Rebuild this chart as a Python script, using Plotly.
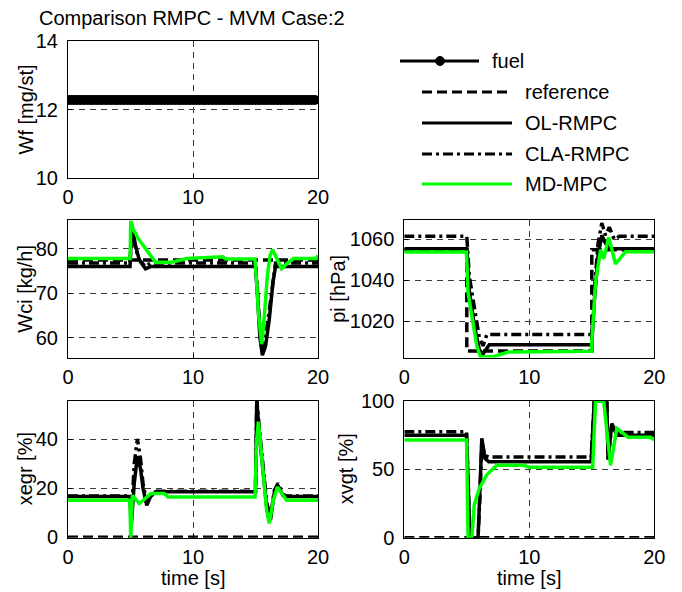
import plotly.graph_objects as go

# ---------------- data ----------------
fuel_t = [0, 0.25, 0.5, 0.75, 1, 1.25, 1.5, 1.75, 2, 2.25, 2.5, 2.75, 3, 3.25, 3.5, 3.75,
          4, 4.25, 4.5, 4.75, 5, 5.25, 5.5, 5.75, 6, 6.25, 6.5, 6.75, 7, 7.25, 7.5, 7.75,
          8, 8.25, 8.5, 8.75, 9, 9.25, 9.5, 9.75, 10, 10.25, 10.5, 10.75, 11, 11.25, 11.5, 11.75,
          12, 12.25, 12.5, 12.75, 13, 13.25, 13.5, 13.75, 14, 14.25, 14.5, 14.75, 15, 15.25, 15.5, 15.75,
          16, 16.25, 16.5, 16.75, 17, 17.25, 17.5, 17.75, 18, 18.25, 18.5, 18.75, 19, 19.25, 19.5, 19.75]
fuel_wf = [12.28] * len(fuel_t)

# Wci [kg/h]
wci_ref_t = [0, 20]
wci_ref = [77.5, 77.5]
wci_ol_t = [0, 4.96, 5.1, 5.4, 5.7, 6.2, 6.6, 15.0, 15.15, 15.35, 15.55, 15.8, 16.1, 16.4, 16.6, 20]
wci_ol = [76.0, 76.0, 85.4, 80.8, 77.5, 75.5, 76.0, 76.0, 70, 60, 56, 58, 64, 72.5, 76.0, 76.0]
wci_cla_t = [0, 4.96, 5.1, 5.4, 5.7, 6.2, 6.6, 15.0, 15.15, 15.35, 15.55, 15.8, 16.1, 16.4, 16.6, 20]
wci_cla = [76.8, 76.8, 84.5, 80, 77.5, 76, 76.8, 76.8, 71, 62, 57, 60, 66, 73, 76.8, 76.8]
wci_md_t = [0, 4.97, 5.02, 5.2, 5.6, 6.0, 6.4, 7.0, 8.3, 9.5, 12.4, 12.6, 14.96, 15.1, 15.23,
            15.49, 15.63, 15.95, 16.16, 16.37, 16.64, 17.09, 17.49, 18.03, 19.85, 20]
wci_md = [77.8, 77.8, 86.3, 84.5, 82.4, 81.0, 79.3, 77.0, 77.0, 77.8, 78.2, 77.7, 77.7, 72, 65.7,
          58.5, 62, 74, 78.5, 79.8, 78, 75.5, 76.6, 77.8, 77.8, 78.5]

# pi [hPa]
pi_ref_t = [0, 5.0, 5.0, 15.0, 15.0, 20]
pi_ref = [1055, 1055, 1005.5, 1005.5, 1055, 1055]
pi_ol_t = [0, 5.0, 5.2, 5.6, 6.0, 6.3, 6.8, 15.0, 15.2, 15.5, 15.8, 16.1, 16.5, 20]
pi_ol = [1055.5, 1055.5, 1035, 1018, 1006, 1004, 1008.5, 1008.5, 1030, 1052, 1062, 1058, 1055.5, 1055.5]
pi_cla_t = [0, 5.0, 5.2, 5.6, 6.0, 6.3, 6.6, 15.0, 15.2, 15.5, 15.8, 16.1, 16.4, 16.8, 17.2, 20]
pi_cla = [1061.5, 1061.5, 1042, 1026, 1012, 1008, 1013.5, 1013.5, 1035, 1058, 1068, 1062, 1066, 1060, 1061.5, 1061.5]
pi_md_t = [0, 4.97, 5.1, 5.4, 5.8, 6.1, 7.2, 8.3, 14.95, 15.3, 15.55, 15.7, 15.95, 16.35, 16.9, 17.7, 20]
pi_md = [1053.8, 1053.8, 1034, 1022.7, 1008, 1002.5, 1002.8, 1005, 1005.3, 1039, 1050.5, 1055,
         1050.5, 1061, 1048, 1054, 1054]

# xegr [%]
xegr_ref_t = [0, 20]
xegr_ref = [0, 0]
xegr_ol_t = [0, 4.97, 5.05, 5.3, 5.55, 5.8, 6.0, 6.3, 6.6, 7.0, 15.0, 15.1, 15.3, 15.6, 15.9,
             16.2, 16.5, 16.8, 17.2, 17.5, 20]
xegr_ol = [16.6, 16.6, 4, 22, 33, 28, 20, 13, 16.5, 18.5, 18.5, 56, 42, 28, 12, 7, 18, 21, 17, 16.6, 16.6]
xegr_cla_t = [0, 4.97, 5.05, 5.3, 5.55, 5.8, 6.0, 6.3, 6.6, 7.0, 15.0, 15.1, 15.3, 15.6, 15.9,
              16.2, 16.5, 16.8, 17.2, 17.5, 20]
xegr_cla = [16.8, 16.8, 6, 30, 40, 32, 22, 14, 17, 18.7, 18.7, 56, 45, 30, 14, 8, 19, 22, 17.5, 16.8, 16.8]
xegr_md_t = [0, 4.95, 5.02, 5.15, 5.7, 6.65, 7.7, 8.0, 14.96, 15.09, 15.23, 15.49, 15.89, 16.1,
             16.43, 16.75, 17.09, 17.49, 20]
xegr_md = [15.1, 15.1, -0.5, 17.1, 13.7, 17.8, 17.8, 16.4, 16.4, 39.6, 47.1, 32.8, 11.0, 5.6,
           15.1, 20.5, 17.8, 15.1, 15.1]

# xvgt [%]
xvgt_ref_t = [0, 20]
xvgt_ref = [0, 0]
xvgt_ol_t = [0, 4.98, 5.25, 5.9, 6.05, 6.2, 6.45, 6.75, 14.95, 15.2, 16.2, 16.3, 16.6, 17.0, 20]
xvgt_ol = [75, 75, 0, 0, 35, 72.7, 58, 55.6, 55.6, 100, 100, 57, 83.5, 75, 75]
xvgt_cla_t = [0, 4.98, 5.25, 5.9, 6.05, 6.2, 6.45, 6.75, 14.95, 15.2, 16.2, 16.3, 16.6, 17.0, 20]
xvgt_cla = [77.5, 77.5, 0, 0, 30, 70, 60, 59, 59, 100, 100, 58, 82, 77, 77]
xvgt_md_t = [0, 4.98, 5.1, 5.4, 5.6, 6.0, 6.6, 7.4, 9.55, 10.0, 15.07, 15.3, 15.95, 16.5, 17.0,
             17.9, 19.7, 20]
xvgt_md = [71.5, 71.5, 0, 0, 24, 36, 46, 53, 53, 51.5, 51.5, 100, 100, 53, 80, 73.5, 73.5, 71.5]

x_ticks = [0, 10, 20]
wf_ticks = [10, 12, 14]
wci_ticks = [60, 70, 80]
pi_ticks = [1020, 1040, 1060]
xegr_ticks = [0, 20, 40]
xvgt_ticks = [0, 50, 100]

legend_names = ["fuel", "reference", "OL-RMPC", "CLA-RMPC", "MD-MPC"]

# ---------------- styling ----------------
W, H = 682, 592
FONT = "Liberation Sans, Arial, Helvetica, sans-serif"
FS = 20
GREEN = "#00ff00"
LW = 3.5
DASH_REF = "10px,5px"
DASH_CLA = "10px,4px,3px,4px"
GRID_DASH = "6px,5px"


def px_x(p):
    return p / W


def px_y(p):
    return 1 - p / H


L_DOM = [px_x(68), px_x(318)]
R_DOM = [px_x(404.3), px_x(654.3)]
TOP_DOM = [px_y(178), px_y(41)]
MID_DOM = [px_y(357.5), px_y(220)]
BOT_DOM = [px_y(537.7), px_y(401)]

fig = go.Figure()


def add_group(ax, t_ref, v_ref, t_ol, v_ol, t_cla, v_cla, t_md, v_md):
    xa, ya = ("x", "y") if ax == 1 else (f"x{ax}", f"y{ax}")
    fig.add_trace(go.Scatter(x=t_ref, y=v_ref, mode="lines", xaxis=xa, yaxis=ya, showlegend=False,
                             line=dict(color="black", width=LW, dash=DASH_REF)))
    fig.add_trace(go.Scatter(x=t_ol, y=v_ol, mode="lines", xaxis=xa, yaxis=ya, showlegend=False,
                             line=dict(color="black", width=LW)))
    fig.add_trace(go.Scatter(x=t_cla, y=v_cla, mode="lines", xaxis=xa, yaxis=ya, showlegend=False,
                             line=dict(color="black", width=LW, dash=DASH_CLA)))
    fig.add_trace(go.Scatter(x=t_md, y=v_md, mode="lines", xaxis=xa, yaxis=ya, showlegend=False,
                             line=dict(color=GREEN, width=LW)))


fig.add_trace(go.Scatter(x=fuel_t, y=fuel_wf, mode="lines+markers", xaxis="x", yaxis="y",
                         showlegend=False, line=dict(color="black", width=LW),
                         marker=dict(color="black", size=10, symbol="circle")))
add_group(2, wci_ref_t, wci_ref, wci_ol_t, wci_ol, wci_cla_t, wci_cla, wci_md_t, wci_md)
add_group(3, pi_ref_t, pi_ref, pi_ol_t, pi_ol, pi_cla_t, pi_cla, pi_md_t, pi_md)
add_group(4, xegr_ref_t, xegr_ref, xegr_ol_t, xegr_ol, xegr_cla_t, xegr_cla, xegr_md_t, xegr_md)
add_group(5, xvgt_ref_t, xvgt_ref, xvgt_ol_t, xvgt_ol, xvgt_cla_t, xvgt_cla, xvgt_md_t, xvgt_md)


def axis_common(domain, anchor, rng, ticks, standoff):
    return dict(domain=domain, anchor=anchor, range=rng, tickvals=ticks, automargin=False,
                showline=True, linecolor="black", linewidth=1, mirror=True,
                ticks="inside", ticklen=4, tickcolor="black",
                showgrid=True, gridcolor="#3a3a3a", gridwidth=1, griddash=GRID_DASH,
                zeroline=False, tickfont=dict(family=FONT, size=FS, color="black"),
                ticklabelstandoff=standoff, fixedrange=True)


XS, YS = 1, 5
layout = dict(
    width=W, height=H, autosize=False,
    margin=dict(l=0, r=0, t=0, b=0, pad=0),
    paper_bgcolor="white", plot_bgcolor="white",
    showlegend=False,
    font=dict(family=FONT, size=FS, color="black"),
    xaxis=axis_common(L_DOM, "y", [0, 20], x_ticks, XS),
    yaxis=axis_common(TOP_DOM, "x", [10, 14], wf_ticks, YS),
    xaxis2=axis_common(L_DOM, "y2", [0, 20], x_ticks, XS),
    yaxis2=axis_common(MID_DOM, "x2", [55.5, 86.5], wci_ticks, YS),
    xaxis3=axis_common(R_DOM, "y3", [0, 20], x_ticks, XS),
    yaxis3=axis_common(MID_DOM, "x3", [1002.3, 1069.5], pi_ticks, YS),
    xaxis4=axis_common(L_DOM, "y4", [0, 20], x_ticks, XS),
    yaxis4=axis_common(BOT_DOM, "x4", [-0.2, 55.5], xegr_ticks, YS),
    xaxis5=axis_common(R_DOM, "y5", [0, 20], x_ticks, XS),
    yaxis5=axis_common(BOT_DOM, "x5", [0, 100], xvgt_ticks, YS),
)
fig.update_layout(**layout)

ann = []


def text(x, y, s, **kw):
    d = dict(x=x, y=y, xref="paper", yref="paper", text=s, showarrow=False,
             font=dict(family=FONT, size=FS, color="black"))
    d.update(kw)
    ann.append(d)


# title
text(px_x(192), px_y(18), "Comparison RMPC - MVM Case:2", xanchor="center", yanchor="middle")
# y labels
text(px_x(25), (TOP_DOM[0] + TOP_DOM[1]) / 2, "Wf [mg/st]", textangle=-90, xanchor="center", yanchor="middle")
text(px_x(25), (MID_DOM[0] + MID_DOM[1]) / 2, "Wci [kg/h]", textangle=-90, xanchor="center", yanchor="middle")
text(px_x(338), (MID_DOM[0] + MID_DOM[1]) / 2, "pi [hPa]", textangle=-90, xanchor="center", yanchor="middle")
text(px_x(25), (BOT_DOM[0] + BOT_DOM[1]) / 2, "xegr [%]", textangle=-90, xanchor="center", yanchor="middle")
text(px_x(346), (BOT_DOM[0] + BOT_DOM[1]) / 2, "xvgt [%]", textangle=-90, xanchor="center", yanchor="middle")
# x labels
text((L_DOM[0] + L_DOM[1]) / 2, px_y(578), "time [s]", xanchor="center", yanchor="middle")
text((R_DOM[0] + R_DOM[1]) / 2, px_y(578), "time [s]", xanchor="center", yanchor="middle")

# legend (drawn as decorations)
shapes = []
leg_rows = [
    (legend_names[0], 61, 400, 479, "black", None),
    (legend_names[1], 92, 422, 512, "black", DASH_REF),
    (legend_names[2], 123, 422, 512, "black", None),
    (legend_names[3], 154, 422, 512, "black", DASH_CLA),
    (legend_names[4], 184, 422, 512, GREEN, None),
]
for name, yy, xa, xb, col, dash in leg_rows:
    ln = dict(color=col, width=3)
    if dash:
        ln["dash"] = dash
    shapes.append(dict(type="line", xref="paper", yref="paper", x0=px_x(xa), x1=px_x(xb),
                       y0=px_y(yy), y1=px_y(yy), line=ln))
    text(px_x(xb + 11), px_y(yy), name, xanchor="left", yanchor="middle")
shapes.append(dict(type="circle", xref="paper", yref="paper", x0=px_x(435.5), x1=px_x(444.5),
                   y0=px_y(65.5), y1=px_y(56.5), fillcolor="black", line=dict(color="black", width=1)))

fig.update_layout(annotations=ann, shapes=shapes)
fig.write_html("out.html", config={"displayModeBar": False, "staticPlot": True},
               post_script="document.body.style.margin='0';document.body.style.overflow='hidden';")
